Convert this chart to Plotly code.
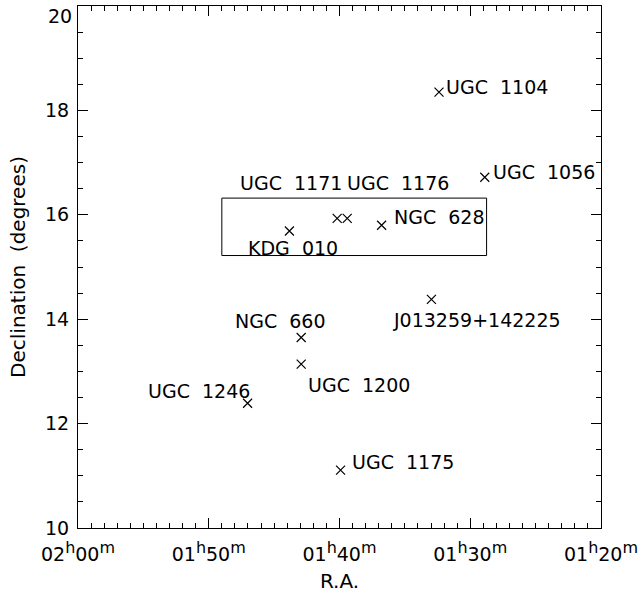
import plotly.graph_objects as go

# ---- data ----
names = ["UGC 1104", "UGC 1056", "NGC 628", "UGC 1171", "UGC 1176", "KDG 010",
         "J013259+142225", "NGC 660", "UGC 1200", "UGC 1246", "UGC 1175"]
ra_min = [92.39, 88.89, 96.78, 100.18, 99.41, 103.83, 92.97, 102.93, 102.93, 107.03, 99.92]  # minutes of RA (01h = 60)
dec_deg = [18.35, 16.72, 15.80, 15.93, 15.93, 15.69, 14.38, 13.65, 13.14, 12.39, 11.11]

box_ra = [109.0, 88.75]
box_dec = [15.22, 16.32]

x_tickvals = [120, 110, 100, 90, 80]
x_tick_hm = [("02", "00"), ("01", "50"), ("01", "40"), ("01", "30"), ("01", "20")]
SUP = "<sup><span style='font-size:16px'>{}</span></sup>"
x_ticktext = [h + SUP.format("h") + m + SUP.format("m") for h, m in x_tick_hm]

y_tickvals = [10, 12, 14, 16, 18, 20]
y_ticktext = ["10", "12", "14", "16", "18", "20"]

# label placement style: (xanchor, xshift px, yshift px)
label_style = {
    "UGC 1104": ("left", 6, 5),
    "UGC 1056": ("left", 7, 5),
    "NGC 628": ("left", 11, 8),
    "UGC 1171": ("right", 6, 35),
    "UGC 1176": ("left", -1, 35),
    "KDG 010": ("center", 4, -17),
    "J013259+142225": ("left", -39, -21),
    "NGC 660": ("right", 26, 16),
    "UGC 1200": ("left", 6, -21),
    "UGC 1246": ("right", 3, 12),
    "UGC 1175": ("left", 10, 8),
}

FONT = "DejaVu Sans"
fig = go.Figure()
fig.add_trace(go.Scatter(
    x=ra_min, y=dec_deg, mode="markers",
    marker=dict(symbol="x-thin-open", size=9, color="black", line=dict(color="black", width=1.2)),
    showlegend=False, hoverinfo="skip"))

fig.add_shape(type="rect", xref="x", yref="y",
              x0=box_ra[0], x1=box_ra[1], y0=box_dec[0], y1=box_dec[1],
              line=dict(color="black", width=1))

for n, xv, yv in zip(names, ra_min, dec_deg):
    xa, xs, ys = label_style[n]
    fig.add_annotation(x=xv, y=yv, xref="x", yref="y", text=n.replace(" ", "\u00a0 "),
                       showarrow=False, xanchor=xa, yanchor="middle", xshift=xs, yshift=ys,
                       borderpad=0, font=dict(family=FONT, size=19, color="black"))

# top tick label drawn slightly lowered so it stays inside the page (as in the reference)
fig.add_annotation(x=0, y=y_tickvals[-1], xref="paper", yref="y", text=y_ticktext[-1],
                   showarrow=False, xanchor="right", yanchor="middle", xshift=-5, yshift=-10,
                   borderpad=0, font=dict(family=FONT, size=19, color="black"))

axis_common = dict(showline=True, linecolor="black", linewidth=1, mirror="ticks",
                   ticks="inside", ticklen=10, tickwidth=1, tickcolor="black",
                   showgrid=False, zeroline=False, automargin=False,
                   ticklabeloverflow="allow",
                   tickfont=dict(family=FONT, size=19, color="black"),
                   title_font=dict(family=FONT, size=20, color="black"))

fig.update_xaxes(range=[120, 80], tickmode="array", tickvals=x_tickvals, ticktext=x_ticktext,
                 minor=dict(dtick=1, ticks="inside", ticklen=5, tickcolor="black", showgrid=False),
                 title_text="R.A.", title_standoff=12, ticklabelstandoff=9, **axis_common)
fig.update_yaxes(range=[10, 20], tickmode="array", tickvals=y_tickvals,
                 ticktext=y_ticktext[:-1] + [""],
                 minor=dict(dtick=0.5, tick0=10, ticks="inside", ticklen=5, tickcolor="black", showgrid=False),
                 title_text="Declination\u00a0 (degrees)", title_standoff=14, ticklabelstandoff=4,
                 **axis_common)

fig.update_layout(width=644, height=593, margin=dict(l=78, r=43, t=6, b=65, autoexpand=False),
                  plot_bgcolor="white", paper_bgcolor="white",
                  font=dict(family=FONT, size=19, color="black"))

fig.write_html("out.html", config={"displayModeBar": False},
               post_script="document.body.style.margin='0';document.body.style.overflow='hidden';")
